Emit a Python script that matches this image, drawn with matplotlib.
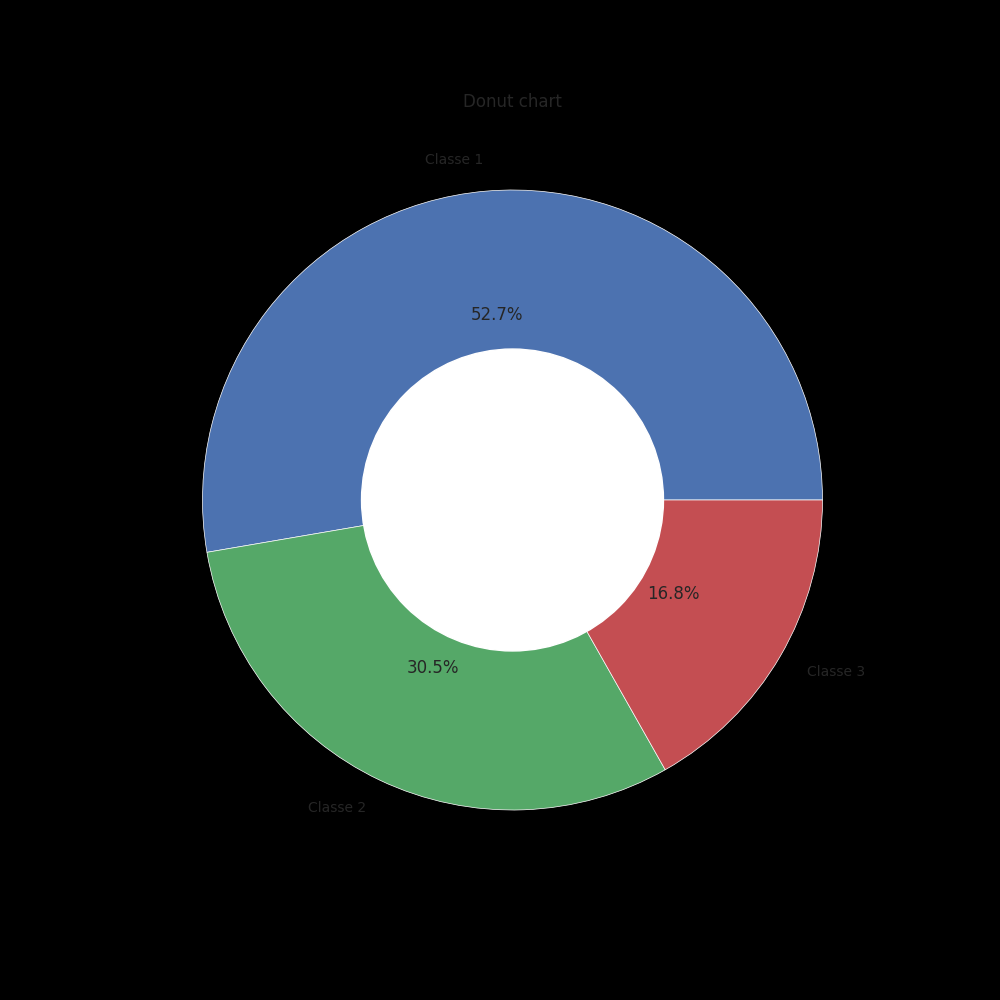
import matplotlib
matplotlib.use("Agg")
import matplotlib.pyplot as plt
import seaborn as sns

sns.set_theme()

# data
labels = ["Classe 1", "Classe 2", "Classe 3"]
sizes = [52.7, 30.5, 16.8]
deep = sns.color_palette("deep")
colors = [deep[0], deep[2], deep[3]]

fig, ax = plt.subplots(figsize=(10, 10), dpi=100)
fig.patch.set_facecolor("black")
fig.subplots_adjust(left=0.125, right=0.9, bottom=0.1125, top=0.8875)

ax.pie(sizes, labels=labels, colors=colors, autopct="%1.1f%%",
       wedgeprops={"edgecolor": "w", "linewidth": 0.5},
       textprops={"color": "#262626"})
for t in ax.texts:
    if "%" in t.get_text():
        t.set_fontsize(12)
    else:
        t.set_fontsize(10)

# white hole in the middle
hole = plt.Circle((0, 0), 0.487, color="white")
ax.add_artist(hole)

ax.set_title("Donut chart", color="#262626", fontsize=12, pad=4)

plt.savefig("out.png", facecolor="black")
